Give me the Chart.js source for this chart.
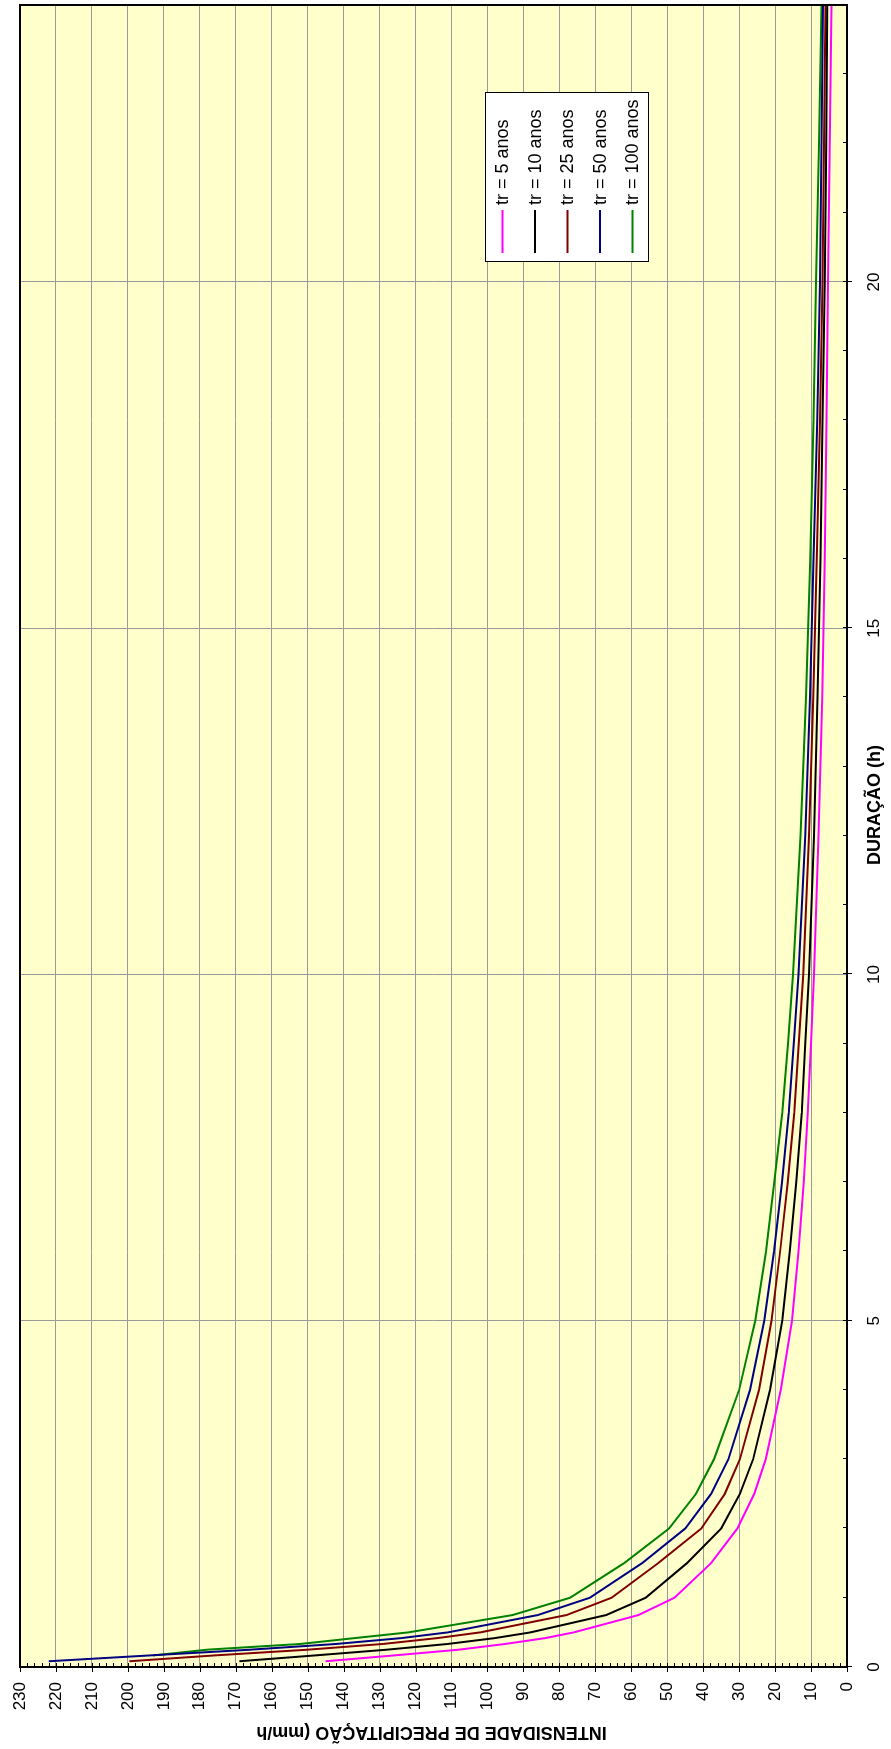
<!DOCTYPE html>
<html lang="pt">
  <head>
    <meta charset="UTF-8" />
    <title>Intensidade x Duração</title>
    <style>
      html, body { margin: 0; padding: 0; background: #fff; }
      body { width: 891px; height: 1749px; overflow: hidden; position: relative; }
      /* chart is drawn landscape and turned a quarter turn to the left */
      .wrap {
        position: absolute; left: 0; top: 0;
        width: 1749px; height: 891px;
        transform-origin: 0 0;
        transform: translateY(1749px) rotate(-90deg);
      }
    </style>
  </head>
  <body>
    <div class="wrap">
      <canvas id="myChart" width="1749" height="891"></canvas>
    </div>

    <script src="https://cdn.jsdelivr.net/npm/chart.js"></script>

    <script>
      // duração (h)
      const durations = [0.083, 0.167, 0.25, 0.333, 0.417, 0.5, 0.75, 1, 1.5, 2, 2.5, 3, 4, 5, 6, 7, 8, 9, 10, 12, 14, 16, 18, 20, 22, 24];

      // intensidade (mm/h) por tempo de retorno
      const tr5 = [145, 126, 108, 95, 84, 76, 58, 48, 37.8, 30.5, 25.8, 22.6, 18.4, 15.3, 13.5, 12.0, 10.9, 10.0, 9.2, 7.9, 6.9, 6.2, 5.7, 5.3, 4.8, 4.3];
      const tr10 = [169, 148, 128, 111, 98, 88, 67, 56, 44.5, 35, 29.8, 26.1, 21.4, 18.0, 15.9, 14.1, 12.6, 11.6, 10.6, 9.2, 8.2, 7.4, 6.8, 6.2, 5.8, 5.5];
      const tr25 = [199.6, 176, 150, 129, 114, 102, 78, 65.5, 52.5, 40.5, 34, 29.8, 24.5, 21.0, 18.6, 16.5, 14.7, 13.4, 12.2, 10.6, 9.4, 8.4, 7.5, 6.8, 6.4, 6.0];
      const tr50 = [222, 194, 166, 142, 124, 111, 86, 71.5, 57, 45, 37.8, 33, 27.0, 23.0, 20.3, 18.1, 16.2, 14.8, 13.5, 11.6, 10.3, 9.3, 8.3, 7.5, 7.1, 6.7];
      const tr100 = [null, 193, 178, 152, 137, 122, 93, 77, 62, 49.5, 42, 37, 30.0, 25.5, 22.5, 20.2, 18.0, 16.4, 15.0, 12.9, 11.4, 10.2, 9.3, 8.6, 7.8, 7.1];

      const seriesLabels = ["tr = 5 anos", "tr = 10 anos", "tr = 25 anos", "tr = 50 anos", "tr = 100 anos"];
      const seriesColors = ["#FF00FF", "#000000", "#800000", "#000080", "#008000"];
      const seriesValues = [tr5, tr10, tr25, tr50, tr100];

      const xTickLabels = [0, 5, 10, 15, 20];
      const yTickLabels = [0, 10, 20, 30, 40, 50, 60, 70, 80, 90, 100, 110, 120, 130, 140, 150, 160, 170, 180, 190, 200, 210, 220, 230];

      const FONT = "Arial, 'Liberation Sans', sans-serif";

      const toPoints = (vals) =>
        durations.map((d, i) => ({ x: d, y: vals[i] })).filter((p) => p.y !== null);

      // no extra room for edge labels, the plot box is fixed by layout padding
      const noScalePadding = (s) => {
        s.paddingTop = 0;
        s.paddingBottom = 0;
        s.paddingLeft = 0;
        s.paddingRight = 0;
      };

      // fundo, moldura, marcas das escalas, títulos e legenda
      const plotExtras = {
        id: "plotExtras",
        beforeDraw(chart) {
          const { ctx, chartArea: a } = chart;
          ctx.save();
          ctx.fillStyle = "#FFFFCC";
          ctx.fillRect(a.left, a.top, a.right - a.left, a.bottom - a.top);
          ctx.restore();
        },
        afterDraw(chart) {
          const { ctx, chartArea: a, scales: { x, y } } = chart;
          ctx.save();

          // moldura da área de plotagem
          ctx.strokeStyle = "#000";
          ctx.lineWidth = 2;
          ctx.strokeRect(a.left, a.top, a.right - a.left, a.bottom - a.top);

          // marcas do eixo x (1 h), maiores a cada 5 h
          ctx.lineWidth = 1;
          x.ticks.forEach((t) => {
            const px = Math.round(x.getPixelForValue(t.value)) + 0.5;
            const major = xTickLabels.includes(t.value);
            ctx.beginPath();
            ctx.moveTo(px, a.bottom - 4);
            ctx.lineTo(px, a.bottom + (major ? 5 : 0));
            ctx.stroke();
          });
          // marcas do eixo y (2 mm/h), maiores a cada 10
          y.ticks.forEach((t) => {
            const py = Math.round(y.getPixelForValue(t.value)) + 0.5;
            const major = yTickLabels.includes(t.value);
            ctx.beginPath();
            ctx.moveTo(a.left - (major ? 5 : 0), py);
            ctx.lineTo(a.left + 4, py);
            ctx.stroke();
          });

          // títulos dos eixos
          ctx.fillStyle = "#000";
          ctx.font = `bold 18px ${FONT}`;
          ctx.textAlign = "center";
          ctx.textBaseline = "middle";
          ctx.fillText("DURAÇÃO (h)", (a.left + a.right) / 2 + 31, a.bottom + 28);

          ctx.save();
          ctx.translate(17, (a.top + a.bottom) / 2 - 2);
          ctx.rotate(-Math.PI / 2);
          ctx.fillText("INTENSIDADE DE PRECIPITAÇÃO (mm/h", 0, 0);
          ctx.restore();

          // legenda
          const bx = a.right - 257;
          const by = a.top + 465;
          ctx.fillStyle = "#fff";
          ctx.fillRect(bx, by, 169, 163);
          ctx.strokeStyle = "#000";
          ctx.lineWidth = 1;
          ctx.strokeRect(bx + 0.5, by + 0.5, 169, 163);
          ctx.font = `18px ${FONT}`;
          ctx.textAlign = "left";
          chart.data.datasets.forEach((ds, i) => {
            const ly = by + 17.5 + i * 32.5;
            ctx.strokeStyle = ds.borderColor;
            ctx.lineWidth = 2;
            ctx.beginPath();
            ctx.moveTo(bx + 9, ly);
            ctx.lineTo(bx + 52, ly);
            ctx.stroke();
            ctx.fillStyle = "#000";
            ctx.fillText(ds.label, bx + 57, ly + 1);
          });

          ctx.restore();
        },
      };

      const ctx = document.getElementById("myChart").getContext("2d");

      new Chart(ctx, {
        type: "line",
        data: {
          datasets: seriesValues.map((vals, i) => ({
            label: seriesLabels[i],
            data: toPoints(vals),
            borderColor: seriesColors[i],
            backgroundColor: seriesColors[i],
            borderWidth: 2,
            pointRadius: 0,
            tension: 0,
            fill: false,
          })),
        },
        options: {
          responsive: false,
          devicePixelRatio: 1,
          animation: false,
          layout: { padding: { top: 20, right: 5, left: 0, bottom: 0 } },
          plugins: {
            legend: { display: false },
            tooltip: { enabled: false },
          },
          scales: {
            x: {
              type: "linear",
              min: 0,
              max: 24,
              border: { display: false },
              grid: {
                drawTicks: false,
                lineWidth: 1,
                color: (c) =>
                  c.tick && xTickLabels.includes(c.tick.value) && c.tick.value > 0 ? "#999999" : "rgba(0,0,0,0)",
              },
              ticks: {
                stepSize: 1,
                autoSkip: false,
                maxRotation: 0,
                padding: 17,
                color: "#000",
                font: { family: FONT, size: 17 },
                callback: (v) => (xTickLabels.includes(v) ? String(v) : ""),
              },
              afterFit: (s) => { s.height = 44; noScalePadding(s); },
            },
            y: {
              min: 0,
              max: 230,
              border: { display: false },
              grid: {
                drawTicks: false,
                lineWidth: 1,
                color: (c) =>
                  c.tick && yTickLabels.includes(c.tick.value) && c.tick.value > 0 && c.tick.value < 230
                    ? "#999999"
                    : "rgba(0,0,0,0)",
              },
              ticks: {
                stepSize: 2,
                autoSkip: false,
                padding: 15,
                color: "#000",
                font: { family: FONT, size: 17 },
                callback: (v) => (yTickLabels.includes(v) ? String(v) : ""),
              },
              afterFit: (s) => { s.width = 82; noScalePadding(s); },
            },
          },
        },
        plugins: [plotExtras],
      });
    </script>
  </body>
</html>
